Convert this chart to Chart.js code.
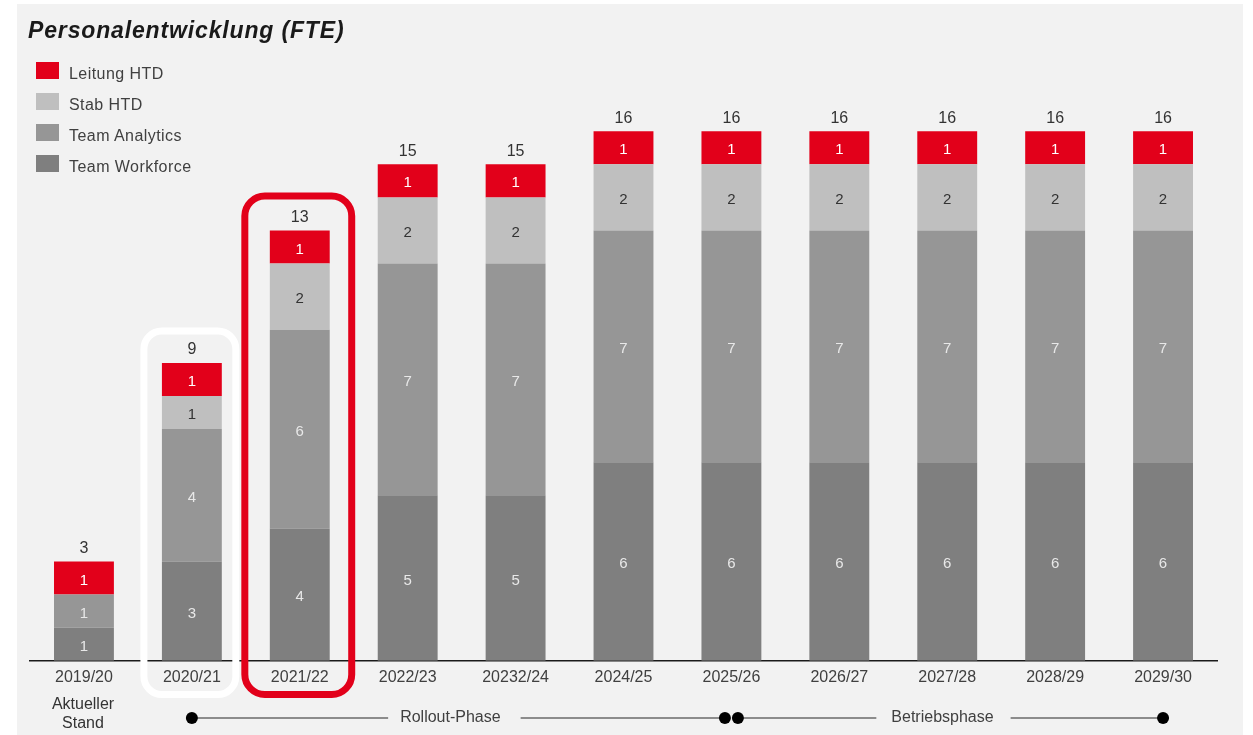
<!DOCTYPE html>
<html>
<head>
<meta charset="utf-8">
<script src="https://cdn.jsdelivr.net/npm/chart.js@4.4.1/dist/chart.umd.min.js"></script>
<style>
  html, body { margin: 0; padding: 0; background: #ffffff; }
  body { width: 1253px; height: 735px; position: relative; overflow: hidden; font-family: "Liberation Sans", Arial, sans-serif; }
  #panel { position: absolute; left: 17px; top: 4px; width: 1226px; height: 731px; background: #f2f2f2; }
  #c { position: absolute; left: 0; top: 0; }
  #title { position: absolute; left: 28px; top: 17px; font-size: 23px; letter-spacing: 0.85px; font-weight: bold; font-style: italic; color: #1a1a1a; white-space: nowrap; }
  #legend { position: absolute; left: 36px; top: 62px; }
  .li { position: relative; height: 31px; }
  .sw { position: absolute; left: 0; top: 0; width: 23px; height: 17px; }
  .lt { position: absolute; left: 33px; top: 3px; font-size: 16px; letter-spacing: 0.45px; color: #404040; line-height: 17px; white-space: nowrap; }
  #stand { position: absolute; left: 23px; width: 120px; top: 694px; text-align: center; font-size: 16px; line-height: 19px; color: #333; }
</style>
</head>
<body>
<div id="panel"></div>
<canvas id="c" width="1253" height="735"></canvas>
<div id="title">Personalentwicklung (FTE)</div>
<div id="legend"></div>
<div id="stand">Aktueller<br>Stand</div>
<script>
const categories = ["2019/20","2020/21","2021/22","2022/23","20232/24","2024/25","2025/26","2026/27","2027/28","2028/29","2029/30"];
const leitungHTD     = [1,1,1,1,1,1,1,1,1,1,1];
const stabHTD        = [0,1,2,2,2,2,2,2,2,2,2];
const teamAnalytics  = [1,4,6,7,7,7,7,7,7,7,7];
const teamWorkforce  = [1,3,4,5,5,6,6,6,6,6,6];
const seriesNames = ["Leitung HTD","Stab HTD","Team Analytics","Team Workforce"];
const seriesColors = ["#e2001a","#bfbfbf","#969696","#7f7f7f"];
const labelColors  = ["#ffffff","#333333","#e8e8e8","#e8e8e8"];
const phaseLabels = ["Rollout-Phase","Betriebsphase"];
const highlightWhite = 1;  // category index
const highlightRed = 2;

// legend (HTML)
const lg = document.getElementById('legend');
seriesNames.forEach((n,i)=>{
  const d = document.createElement('div'); d.className='li';
  d.innerHTML = '<div class="sw" style="background:'+seriesColors[i]+'"></div><div class="lt">'+n+'</div>';
  lg.appendChild(d);
});

const totals = categories.map((_,i)=>leitungHTD[i]+stabHTD[i]+teamAnalytics[i]+teamWorkforce[i]);
const FONT = '"Liberation Sans", Arial, sans-serif';

function roundRect(ctx,x,y,w,h,r){
  ctx.beginPath();
  ctx.moveTo(x+r,y); ctx.lineTo(x+w-r,y); ctx.arcTo(x+w,y,x+w,y+r,r);
  ctx.lineTo(x+w,y+h-r); ctx.arcTo(x+w,y+h,x+w-r,y+h,r);
  ctx.lineTo(x+r,y+h); ctx.arcTo(x,y+h,x,y+h-r,r);
  ctx.lineTo(x,y+r); ctx.arcTo(x,y,x+r,y,r); ctx.closePath();
}

const overlay = {
  id:'overlay',
  afterDraw(chart){
    const ctx = chart.ctx, xs = chart.scales.x, ys = chart.scales.y;
    ctx.save();
    ctx.textAlign='center'; ctx.textBaseline='middle';
    // segment labels
    ctx.font = '15px '+FONT;
    chart.data.datasets.forEach((ds,di)=>{
      const meta = chart.getDatasetMeta(di);
      meta.data.forEach((el,i)=>{
        const v = ds.data[i]; if(!v) return;
        ctx.fillStyle = ds.labelColor;
        ctx.fillText(String(v), el.x, (el.y+el.base)/2+2.5);
      });
    });
    // totals
    ctx.font = '16px '+FONT;
    ctx.fillStyle = '#333333';
    totals.forEach((t,i)=>{
      ctx.fillText(String(t), xs.getPixelForValue(i), ys.getPixelForValue(t)-13);
    });
    // highlight boxes
    const bw = chart.getDatasetMeta(0).data[0].width;
    ctx.lineWidth = 7;
    ctx.strokeStyle = '#ffffff';
    let cx = xs.getPixelForValue(highlightWhite) - 2;
    let top = ys.getPixelForValue(totals[highlightWhite]) - 32;
    roundRect(ctx, cx - bw/2 - 16, top, bw + 32, 694.5 - top, 18); ctx.stroke();
    ctx.strokeStyle = '#e2001a';
    cx = xs.getPixelForValue(highlightRed) - 1.5;
    top = ys.getPixelForValue(totals[highlightRed]) - 34.5;
    roundRect(ctx, cx - bw/2 - 23.5, top, bw + 47, 694.5 - top, 20); ctx.stroke();
    // phase line
    const py = 718;
    const x1 = xs.getPixelForValue(1), x6 = xs.getPixelForValue(6), x10 = xs.getPixelForValue(10);
    ctx.font = '16px '+FONT; ctx.fillStyle='#404040';
    ctx.strokeStyle = '#8c8c8c'; ctx.lineWidth = 2;
    const m1 = (x1 + x6 - 6.5)/2 - 8, m2 = (x6 + 6.5 + x10)/2 - 8;
    const w1 = ctx.measureText(phaseLabels[0]).width, w2 = ctx.measureText(phaseLabels[1]).width;
    ctx.beginPath();
    ctx.moveTo(x1, py); ctx.lineTo(m1 - w1/2 - 12, py);
    ctx.moveTo(m1 + w1/2 + 20, py); ctx.lineTo(x6 - 6.5, py);
    ctx.moveTo(x6 + 6.5, py); ctx.lineTo(m2 - w2/2 - 15, py);
    ctx.moveTo(m2 + w2/2 + 17, py); ctx.lineTo(x10, py);
    ctx.stroke();
    ctx.fillText(phaseLabels[0], m1, py);
    ctx.fillText(phaseLabels[1], m2, py);
    ctx.fillStyle = '#000000';
    [x1, x6 - 6.5, x6 + 6.5, x10].forEach(x=>{ ctx.beginPath(); ctx.arc(x, py, 6, 0, Math.PI*2); ctx.fill(); });
    ctx.restore();
  }
};

const ds = [
  {label:seriesNames[3], data:teamWorkforce, backgroundColor:seriesColors[3], labelColor:labelColors[3]},
  {label:seriesNames[2], data:teamAnalytics, backgroundColor:seriesColors[2], labelColor:labelColors[2]},
  {label:seriesNames[1], data:stabHTD, backgroundColor:seriesColors[1], labelColor:labelColors[1]},
  {label:seriesNames[0], data:leitungHTD, backgroundColor:seriesColors[0], labelColor:labelColors[0]},
].map(d=>Object.assign(d,{barPercentage:0.555, categoryPercentage:1.0, borderWidth:0}));

new Chart(document.getElementById('c'), {
  type:'bar',
  data:{labels:categories, datasets:ds},
  options:{
    responsive:false, animation:false, devicePixelRatio:1,
    layout:{padding:{left:30, right:36, top:65, bottom:41}},
    plugins:{legend:{display:false}, tooltip:{enabled:false}},
    scales:{
      x:{stacked:true, grid:{display:false, drawTicks:false},
         border:{display:true, color:'#1a1a1a', width:1.5},
         ticks:{font:{size:16, family:FONT}, color:'#404040', padding:7, maxRotation:0, autoSkip:false}},
      y:{stacked:true, display:false, min:0, max:18}
    }
  },
  plugins:[overlay]
});
</script>
</body>
</html>
